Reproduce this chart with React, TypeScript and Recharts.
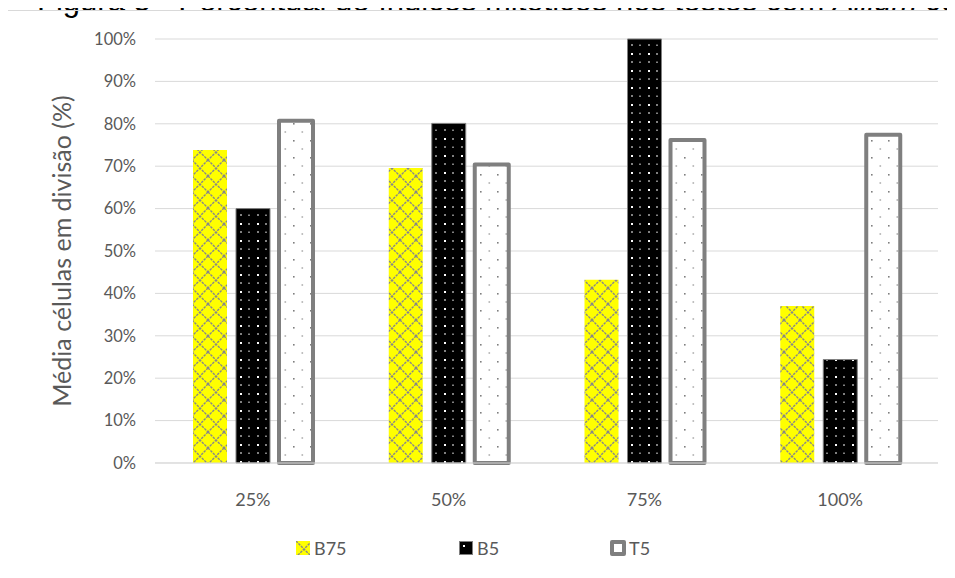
import React from "react";
import { BarChart, Bar, XAxis, YAxis, CartesianGrid } from "recharts";

const categories = ["25%", "50%", "75%", "100%"];
const seriesNames = ["B75", "B5", "T5"];
const b75 = [73.8, 69.6, 43.2, 37.0];
const b5 = [60.0, 80.1, 100.0, 24.4];
const t5 = [80.7, 70.4, 76.2, 77.4];
const yTicks = [0, 10, 20, 30, 40, 50, 60, 70, 80, 90, 100];
const titleText = "Figura 5 - Percentual de índices mitóticos nos testes com ";
const titleItalic = "Allium cepa";
const yLabel = "Média células em divisão (%)";

const data = categories.map((c, i) => ({ cat: c, B75: b75[i], B5: b5[i], T5: t5[i] }));

const FONT = "Lato, 'Open Sans', sans-serif";
const TXT = "#595959";
const legendLefts = [296, 459, 610];

function Defs() {
  return (
    <svg width={0} height={0} style={{ position: "absolute" }}>
      <defs>
        <pattern id="pB75" patternUnits="userSpaceOnUse" width={16} height={16}>
          <rect width={16} height={16} fill="#ffff00" />
          <path d="M0,0 L16,16 M16,0 L0,16" stroke="#888888" strokeWidth={1.4} strokeDasharray="2.5 1" />
        </pattern>
        <pattern id="pB5" patternUnits="userSpaceOnUse" width={17} height={17}>
          <rect width={17} height={17} fill="#000000" />
          <rect x={2} y={2} width={2} height={2} fill="#ffffff" />
          <rect x={10.5} y={2} width={1} height={2} fill="#ffffff" />
          <rect x={2} y={10.5} width={2} height={1} fill="#ffffff" />
          <rect x={10.5} y={10.5} width={1} height={1.5} fill="#ffffff" />
        </pattern>
        <pattern id="pT5" patternUnits="userSpaceOnUse" width={17} height={17}>
          <rect width={17} height={17} fill="#ffffff" />
          <rect x={4} y={4} width={1.6} height={1.6} fill="#7f7f7f" />
          <rect x={12.5} y={12.5} width={1.6} height={1} fill="#7f7f7f" />
        </pattern>
      </defs>
    </svg>
  );
}

const fills: Record<string, string> = { B75: "url(#pB75)", B5: "url(#pB5)", T5: "url(#pT5)" };

function LegendIcon({ name }: { name: string }) {
  if (name === "B75")
    return (
      <svg width={14} height={14} style={{ marginRight: 4 }}>
        <rect width={14} height={14} fill="url(#pB75)" />
      </svg>
    );
  if (name === "B5")
    return (
      <svg width={14} height={14} style={{ marginRight: 4 }}>
        <rect x={0.5} y={0.5} width={13} height={13} fill="#000" stroke="#808080" strokeWidth={1} />
        <rect x={4} y={4} width={2} height={2} fill="#fff" />
      </svg>
    );
  return (
    <svg width={16} height={16} style={{ marginRight: 3 }}>
      <rect x={2} y={2} width={12} height={12} fill="#ffffff" stroke="#7f7f7f" strokeWidth={4} strokeLinejoin="round" />
    </svg>
  );
}

export default function App() {
  return (
    <div style={{ position: "relative", width: 955, height: 578, margin: "-8px 0 0 -8px", overflow: "hidden", background: "#fff" }}>
      <Defs />
      <div
        style={{
          position: "absolute",
          left: 37,
          top: -15,
          fontFamily: "'Liberation Sans', Arial, sans-serif",
          fontSize: 31,
          lineHeight: "31px",
          whiteSpace: "nowrap",
          color: "#000",
        }}
      >
        {titleText}
        <i>{titleItalic}</i>
      </div>
      <div
        style={{
          position: "absolute",
          left: 7,
          top: 10,
          width: 1100,
          height: 1000,
          border: "1px solid #d9d9d9",
          boxSizing: "border-box",
          background: "transparent",
        }}
      />
      <div style={{ position: "absolute", left: 0, top: 0 }}>
        <BarChart
          width={955}
          height={578}
          data={data}
          margin={{ top: 39, right: 17, bottom: 0, left: 75 }}
          barSize={34}
          barGap={9}
        >
          <CartesianGrid vertical={false} stroke="#d9d9d9" strokeWidth={1} />
          <XAxis
            dataKey="cat"
            height={115}
            axisLine={{ stroke: "#d9d9d9" }}
            tickLine={false}
            tickSize={6}
            tickMargin={24}
            tick={{ fill: TXT, fontSize: 18, fontFamily: FONT }}
          />
          <YAxis
            width={80}
            domain={[0, 100]}
            ticks={yTicks}
            interval={0}
            tickFormatter={(v: number) => `${v}%`}
            axisLine={false}
            tickLine={false}
            tickSize={10}
            tickMargin={9}
            tick={{ fill: TXT, fontSize: 16.5, fontFamily: FONT }}
            label={{
              content: () => (
                <text
                  x={61}
                  y={251}
                  transform="rotate(-90, 61, 251)"
                  textAnchor="middle"
                  dominantBaseline="central"
                  fill={TXT}
                  fontSize={25}
                  fontFamily={FONT}
                >
                  {yLabel}
                </text>
              ),
            }}
          />
          <Bar dataKey="B75" fill={fills.B75} isAnimationActive={false} />
          <Bar dataKey="B5" fill={fills.B5} stroke="#808080" strokeWidth={1} isAnimationActive={false} />
          <Bar dataKey="T5" fill={fills.T5} stroke="#7f7f7f" strokeWidth={4} strokeLinejoin="round" isAnimationActive={false} />
        </BarChart>
      </div>
      {seriesNames.map((n, i) => (
        <div
          key={n}
          style={{
            position: "absolute",
            left: legendLefts[i],
            top: 536,
            display: "flex",
            alignItems: "center",
            fontFamily: FONT,
            fontSize: 18,
            color: TXT,
            lineHeight: "24px",
          }}
        >
          <LegendIcon name={n} />
          <span>{n}</span>
        </div>
      ))}
    </div>
  );
}
